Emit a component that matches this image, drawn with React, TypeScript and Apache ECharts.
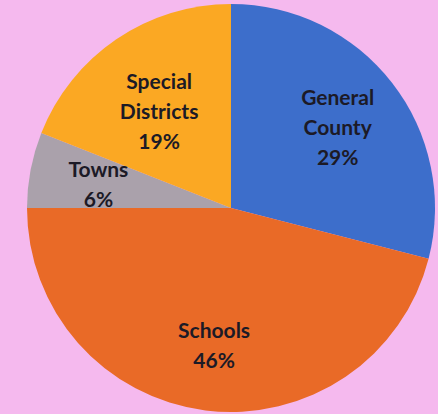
import React, { useEffect, useRef } from "react";
import * as echarts from "echarts";

const categories = ["General County", "Schools", "Towns", "Special Districts"];
const values = [29, 46, 6, 19];
const colors = ["#3d6ecb", "#e96a27", "#aaa1ab", "#fba823"];

export default function App() {
  const ref = useRef<HTMLDivElement>(null);
  useEffect(() => {
    document.body.style.margin = "0";
    const chart = echarts.init(ref.current!, undefined, { renderer: "svg" });
    const data = categories.map((name, i) => ({
      name,
      value: values[i],
      itemStyle: { color: colors[i] },
    }));
    const labelStyle = {
      show: true,
      position: "inside" as const,
      fontFamily: "Lato",
      fontWeight: "bold" as const,
      fontSize: 21,
      lineHeight: 30,
      color: "#1c1a26",
      formatter: (p: any) => `${p.name.replace(" ", "\n")}\n${Math.round(p.percent)}%`,
    };
    chart.setOption({
      animation: false,
      backgroundColor: "#f5b9ee",
      series: [
        {
          type: "pie",
          center: [231, 208],
          radius: [0, 204],
          startAngle: 90,
          clockwise: true,
          label: { show: false },
          labelLine: { show: false },
          silent: true,
          data,
        },
        {
          type: "pie",
          center: [231, 208],
          radius: [60, 204],
          startAngle: 90,
          clockwise: true,
          itemStyle: { color: "transparent" },
          label: labelStyle,
          labelLine: { show: false },
          labelLayout: (p: any) =>
            p.dataIndex === 3 ? { dx: 4, dy: 14 } : p.dataIndex === 1 ? { dy: 3 } : { dy: 1 },
          silent: true,
          data: categories.map((name, i) => ({ name, value: values[i] })),
        },
      ],
    });
    return () => chart.dispose();
  }, []);
  return (
    <div
      ref={ref}
      style={{ position: "absolute", left: 0, top: 0, width: 438, height: 414 }}
    />
  );
}
